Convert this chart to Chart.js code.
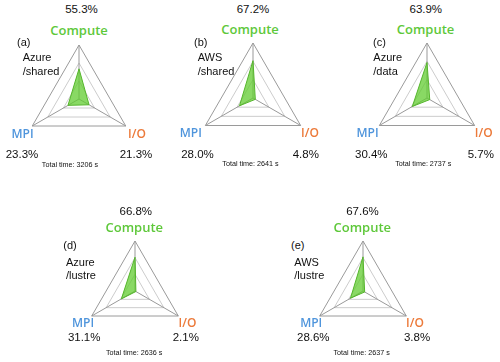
<!DOCTYPE html>
<html>
<head>
<meta charset="utf-8">
<script src="https://cdn.jsdelivr.net/npm/chart.js@4/dist/chart.umd.min.js"></script>
<style>
  html, body { margin: 0; padding: 0; background: #fff; }
  #wrap { position: relative; width: 500px; height: 362px; overflow: hidden; background: #fff; }
  .c { position: absolute; }
  .t { position: absolute; white-space: nowrap; font-family: "Liberation Sans", Arial, sans-serif; color: #111; line-height: 1; }
  .mid { transform: translate(-50%, -50%); }
  .lft { transform: translate(0, -50%); }
  .pct { font-size: 11.5px; }
  .name { font-size: 11px; }
  .tot { font-size: 7.2px; }
  .ax { font-family: "Open Sans", sans-serif; font-weight: 600; }
</style>
</head>
<body>
<div id="wrap"></div>
<script>
// ---- data ----
const panelTags = ['(a)', '(b)', '(c)', '(d)', '(e)'];
const platforms = ['Azure', 'AWS', 'Azure', 'Azure', 'AWS'];
const storages = ['/shared', '/shared', '/data', '/lustre', '/lustre'];
const axisLabels = ['Compute', 'I/O', 'MPI'];
const computePct = [55.3, 67.2, 63.9, 66.8, 67.6];
const ioPct = [21.3, 4.8, 5.7, 2.1, 3.8];
const mpiPct = [23.3, 28.0, 30.4, 31.1, 28.6];
const totalTime = [3206, 2641, 2737, 2636, 2637];
const scaleMax = 99;
const scaleStep = 33;

// ---- layout (positions only) ----
const layout = [
  { cx: 78.5, cy: 99, r: 54,
    pct: [[81.5, 10], [22, 155], [136, 155]], comp: [79, 30], mpi: [22.5, 134], io: [137, 134],
    tag: [17, 42], n1: [22.7, 57], n2: [22.7, 71], tot: [70, 165] },
  { cx: 252.5, cy: 98, r: 55,
    pct: [[253, 10], [197.5, 155], [305.8, 155]], comp: [250, 29], mpi: [190.8, 133], io: [310, 133],
    tag: [194, 42], n1: [197.7, 57], n2: [197.7, 71], tot: [250.5, 164] },
  { cx: 426.5, cy: 98, r: 55,
    pct: [[425.8, 10], [371.3, 155], [480.8, 155]], comp: [425.5, 29], mpi: [367.5, 133], io: [483.7, 133],
    tag: [373, 42], n1: [373.3, 57], n2: [373.3, 71], tot: [423.3, 164] },
  { cx: 134.7, cy: 291, r: 50,
    pct: [[135.8, 212.3], [84.2, 338.3], [185.8, 338.3]], comp: [134.3, 227], mpi: [83, 322.7], io: [187.5, 322.7],
    tag: [63.3, 245], n1: [66, 261.7], n2: [66, 275], tot: [134.2, 353.3] },
  { cx: 363.3, cy: 291, r: 50,
    pct: [[362.5, 212.3], [313.3, 338.3], [417, 338.3]], comp: [362.3, 227], mpi: [311.2, 322.7], io: [415, 322.7],
    tag: [291, 245], n1: [294.3, 261.7], n2: [294.3, 275], tot: [361.7, 353.3] }
];

const wrap = document.getElementById('wrap');
function addText(txt, pos, cls, color) {
  const d = document.createElement('div');
  d.className = 't ' + cls;
  d.textContent = txt;
  d.style.left = pos[0] + 'px';
  d.style.top = pos[1] + 'px';
  if (color) d.style.color = color;
  wrap.appendChild(d);
}

const PAD = 3;
panelTags.forEach((tag, i) => {
  const L = layout[i];
  const size = 2 * L.r + 2 * PAD;
  const cv = document.createElement('canvas');
  cv.className = 'c';
  cv.width = size; cv.height = size;
  cv.style.width = size + 'px'; cv.style.height = size + 'px';
  cv.style.left = (L.cx - L.r - PAD) + 'px';
  cv.style.top = (L.cy - L.r - PAD) + 'px';
  wrap.appendChild(cv);

  new Chart(cv, {
    type: 'radar',
    data: {
      labels: axisLabels,
      datasets: [{
        data: [computePct[i], ioPct[i], mpiPct[i]],
        backgroundColor: 'rgba(98, 204, 48, 0.75)',
        borderColor: '#55b52c',
        borderWidth: 1,
        pointRadius: 0,
        pointHoverRadius: 0
      }]
    },
    options: {
      responsive: false,
      animation: false,
      devicePixelRatio: 1,
      layout: { padding: PAD },
      plugins: { legend: { display: false }, tooltip: { enabled: false } },
      scales: {
        r: {
          min: 0, max: scaleMax,
          ticks: { display: false, stepSize: scaleStep },
          pointLabels: { display: false },
          grid: {
            color: (ctx) => ctx.index === 3 ? '#9a9a9a' : '#cccccc',
            lineWidth: 1
          },
          angleLines: { color: '#999999', lineWidth: 1 }
        }
      }
    }
  });

  addText(computePct[i].toFixed(1) + '%', L.pct[0], 'pct mid');
  addText(mpiPct[i].toFixed(1) + '%', L.pct[1], 'pct mid');
  addText(ioPct[i].toFixed(1) + '%', L.pct[2], 'pct mid');
  addText(axisLabels[0], L.comp, 'ax mid', '#5ec83a');
  addText(axisLabels[2], L.mpi, 'ax mid', '#4f95dc');
  addText(axisLabels[1], L.io, 'ax mid', '#ec7a3a');
  addText(tag, L.tag, 'name lft');
  addText(platforms[i], L.n1, 'name lft');
  addText(storages[i], L.n2, 'name lft');
  addText('Total time: ' + totalTime[i] + ' s', L.tot, 'tot mid');
});

// font sizes for axis labels
document.querySelectorAll('.ax').forEach(el => {
  el.style.fontSize = el.textContent === 'Compute' ? '13px' : '12px';
});
</script>
</body>
</html>
